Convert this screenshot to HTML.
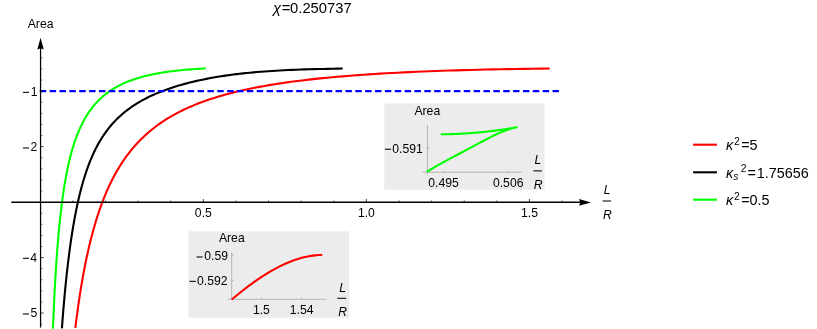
<!DOCTYPE html>
<html><head><meta charset="utf-8"><title>plot</title>
<style>
html,body{margin:0;padding:0;background:#fff;}
svg{display:block;will-change:transform;}
text{font-family:"Liberation Sans",sans-serif;fill:#000;}
.t{font-size:12.2px;}
.i{font-style:italic;}
</style></head><body>
<svg width="817" height="329" viewBox="0 0 817 329">
<rect x="0" y="0" width="817" height="329" fill="#ffffff"/>
<defs><clipPath id="cp"><rect x="0" y="0" width="817" height="328.8"/></clipPath></defs>

<text x="273.0" y="13.2" font-size="14.75"><tspan class="i">χ</tspan><tspan dx="0.7">=</tspan><tspan dx="-0.3">0.250737</tspan></text>
<g fill="none" stroke-width="2.1" stroke-linecap="butt" stroke-linejoin="round" clip-path="url(#cp)">
<path d="M52.80,332.59 L53.00,327.39 L53.21,322.30 L53.42,317.31 L53.63,312.42 L53.85,307.63 L54.07,302.93 L54.29,298.33 L54.52,293.82 L54.75,289.40 L54.98,285.07 L55.22,280.83 L55.46,276.66 L55.71,272.58 L55.96,268.58 L56.22,264.66 L56.47,260.81 L56.74,257.03 L57.00,253.33 L57.28,249.70 L57.55,246.14 L57.83,242.65 L58.12,239.22 L58.41,235.86 L58.70,232.56 L59.00,229.32 L59.31,226.14 L59.62,223.03 L59.93,219.97 L60.25,216.96 L60.58,214.01 L60.91,211.12 L61.25,208.28 L61.59,205.49 L61.94,202.75 L62.29,200.06 L62.65,197.42 L63.01,194.82 L63.38,192.27 L63.76,189.77 L64.14,187.31 L64.53,184.89 L64.93,182.52 L65.33,180.19 L65.74,177.90 L66.16,175.65 L66.58,173.44 L67.01,171.26 L67.44,169.13 L67.89,167.03 L68.34,164.96 L68.80,162.94 L69.26,160.94 L69.74,158.98 L70.22,157.06 L70.71,155.16 L71.21,153.30 L71.71,151.47 L72.23,149.67 L72.75,147.90 L73.28,146.16 L73.82,144.44 L74.37,142.76 L74.93,141.11 L75.49,139.48 L76.07,137.88 L76.66,136.30 L77.25,134.76 L77.86,133.23 L78.47,131.73 L79.10,130.26 L79.73,128.81 L80.38,127.39 L81.04,125.99 L81.70,124.61 L82.38,123.25 L83.07,121.92 L83.77,120.61 L84.49,119.32 L85.21,118.05 L85.95,116.81 L86.70,115.58 L87.46,114.38 L88.23,113.19 L89.02,112.03 L89.82,110.88 L90.63,109.76 L91.45,108.65 L92.29,107.56 L93.15,106.49 L94.01,105.44 L94.89,104.41 L95.79,103.39 L96.70,102.40 L97.63,101.42 L98.57,100.46 L99.52,99.51 L100.50,98.58 L101.48,97.67 L102.49,96.78 L103.51,95.90 L104.55,95.04 L105.60,94.19 L106.67,93.36 L107.76,92.55 L108.87,91.75 L110.00,90.97 L111.14,90.20 L112.31,89.45 L113.49,88.72 L114.69,87.99 L115.91,87.29 L117.16,86.60 L118.42,85.92 L119.70,85.26 L121.01,84.61 L122.33,83.97 L123.68,83.35 L125.05,82.75 L126.44,82.15 L127.86,81.58 L129.30,81.01 L130.76,80.46 L132.25,79.92 L133.76,79.40 L135.29,78.89 L136.86,78.39 L138.44,77.90 L140.06,77.43 L141.70,76.97 L143.36,76.53 L145.06,76.09 L146.78,75.67 L148.53,75.26 L150.31,74.86 L152.12,74.48 L153.96,74.10 L155.82,73.74 L157.72,73.39 L159.65,73.05 L161.62,72.73 L163.61,72.41 L165.64,72.11 L167.70,71.81 L169.80,71.53 L171.93,71.26 L174.09,70.99 L176.29,70.74 L178.53,70.50 L180.80,70.26 L183.11,70.04 L185.46,69.82 L187.85,69.62 L190.28,69.42 L192.74,69.23 L195.25,69.05 L197.80,68.88 L200.39,68.71 L203.02,68.56 L205.70,68.40" stroke="#00ff00"/>
<path d="M61.90,328.49 L62.26,323.67 L62.62,318.91 L63.00,314.23 L63.37,309.62 L63.76,305.07 L64.15,300.60 L64.55,296.20 L64.95,291.86 L65.36,287.59 L65.78,283.39 L66.20,279.25 L66.63,275.18 L67.07,271.18 L67.52,267.23 L67.97,263.36 L68.43,259.54 L68.90,255.79 L69.38,252.09 L69.86,248.46 L70.36,244.89 L70.86,241.38 L71.37,237.92 L71.89,234.53 L72.41,231.19 L72.95,227.90 L73.49,224.68 L74.05,221.51 L74.61,218.39 L75.18,215.32 L75.77,212.31 L76.36,209.36 L76.96,206.45 L77.57,203.59 L78.20,200.79 L78.83,198.03 L79.47,195.33 L80.13,192.67 L80.79,190.06 L81.47,187.49 L82.16,184.98 L82.86,182.51 L83.57,180.08 L84.29,177.70 L85.03,175.36 L85.77,173.06 L86.53,170.81 L87.31,168.59 L88.09,166.42 L88.89,164.29 L89.71,162.20 L90.53,160.15 L91.37,158.13 L92.23,156.16 L93.09,154.22 L93.98,152.31 L94.88,150.44 L95.79,148.61 L96.72,146.81 L97.66,145.05 L98.62,143.32 L99.60,141.62 L100.59,139.95 L101.60,138.31 L102.62,136.71 L103.67,135.13 L104.73,133.59 L105.81,132.07 L106.90,130.58 L108.02,129.12 L109.15,127.68 L110.30,126.28 L111.48,124.90 L112.67,123.54 L113.88,122.21 L115.11,120.90 L116.37,119.62 L117.64,118.36 L118.93,117.12 L120.25,115.90 L121.59,114.71 L122.95,113.54 L124.34,112.39 L125.74,111.26 L127.18,110.14 L128.63,109.05 L130.11,107.98 L131.62,106.92 L133.15,105.89 L134.70,104.87 L136.28,103.87 L137.89,102.88 L139.53,101.91 L141.19,100.96 L142.88,100.03 L144.60,99.11 L146.35,98.20 L148.13,97.31 L149.93,96.43 L151.77,95.57 L153.64,94.73 L155.54,93.89 L157.47,93.07 L159.43,92.27 L161.43,91.48 L163.46,90.70 L165.53,89.93 L167.63,89.18 L169.76,88.44 L171.93,87.71 L174.14,87.00 L176.38,86.30 L178.66,85.61 L180.98,84.93 L183.34,84.27 L185.74,83.62 L188.18,82.98 L190.66,82.35 L193.18,81.74 L195.74,81.14 L198.35,80.55 L201.00,79.97 L203.70,79.41 L206.44,78.87 L209.22,78.33 L212.06,77.81 L214.94,77.30 L217.87,76.81 L220.84,76.33 L223.87,75.86 L226.95,75.41 L230.08,74.98 L233.27,74.56 L236.50,74.15 L239.79,73.76 L243.14,73.38 L246.54,73.02 L250.00,72.68 L253.52,72.35 L257.10,72.03 L260.74,71.73 L264.43,71.45 L268.19,71.18 L272.02,70.93 L275.90,70.69 L279.86,70.47 L283.88,70.26 L287.96,70.07 L292.12,69.89 L296.34,69.72 L300.64,69.57 L305.01,69.42 L309.45,69.29 L313.97,69.17 L318.56,69.06 L323.23,68.95 L327.97,68.85 L332.80,68.75 L337.71,68.65 L342.70,68.55" stroke="#000000"/>
<path d="M75.30,327.98 L75.89,323.21 L76.49,318.52 L77.11,313.91 L77.73,309.36 L78.36,304.90 L79.01,300.50 L79.66,296.17 L80.33,291.91 L81.01,287.72 L81.70,283.60 L82.40,279.54 L83.11,275.55 L83.84,271.63 L84.57,267.76 L85.32,263.96 L86.09,260.22 L86.86,256.54 L87.65,252.92 L88.45,249.36 L89.27,245.86 L90.10,242.41 L90.94,239.02 L91.80,235.68 L92.68,232.40 L93.56,229.17 L94.47,225.99 L95.39,222.87 L96.32,219.80 L97.27,216.77 L98.24,213.80 L99.22,210.87 L100.22,208.00 L101.23,205.17 L102.27,202.38 L103.32,199.65 L104.39,196.95 L105.48,194.31 L106.58,191.70 L107.71,189.14 L108.85,186.62 L110.01,184.14 L111.20,181.71 L112.40,179.31 L113.62,176.96 L114.87,174.64 L116.13,172.36 L117.42,170.13 L118.73,167.92 L120.06,165.76 L121.41,163.63 L122.79,161.54 L124.19,159.48 L125.62,157.46 L127.07,155.47 L128.54,153.52 L130.04,151.60 L131.56,149.71 L133.11,147.86 L134.69,146.03 L136.29,144.24 L137.92,142.48 L139.58,140.75 L141.26,139.05 L142.98,137.38 L144.72,135.74 L146.50,134.12 L148.30,132.54 L150.14,130.98 L152.00,129.45 L153.90,127.95 L155.83,126.48 L157.79,125.03 L159.79,123.60 L161.82,122.20 L163.88,120.83 L165.98,119.48 L168.12,118.16 L170.29,116.86 L172.50,115.59 L174.75,114.33 L177.03,113.10 L179.35,111.90 L181.72,110.71 L184.12,109.55 L186.56,108.41 L189.05,107.29 L191.58,106.20 L194.15,105.12 L196.76,104.06 L199.42,103.03 L202.13,102.01 L204.88,101.02 L207.68,100.04 L210.52,99.08 L213.42,98.14 L216.36,97.22 L219.35,96.32 L222.39,95.44 L225.49,94.58 L228.64,93.73 L231.84,92.90 L235.10,92.09 L238.41,91.29 L241.78,90.51 L245.20,89.75 L248.69,89.00 L252.23,88.28 L255.83,87.56 L259.50,86.86 L263.22,86.18 L267.01,85.51 L270.87,84.86 L274.79,84.23 L278.78,83.60 L282.83,83.00 L286.96,82.40 L291.15,81.82 L295.42,81.26 L299.76,80.71 L304.17,80.17 L308.66,79.65 L313.22,79.14 L317.86,78.64 L322.58,78.16 L327.38,77.69 L332.26,77.23 L337.23,76.78 L342.28,76.35 L347.42,75.93 L352.64,75.52 L357.95,75.12 L363.35,74.74 L368.85,74.37 L374.44,74.01 L380.12,73.66 L385.90,73.32 L391.78,73.00 L397.76,72.68 L403.84,72.38 L410.02,72.08 L416.31,71.80 L422.70,71.53 L429.21,71.27 L435.82,71.02 L442.55,70.78 L449.39,70.56 L456.35,70.34 L463.43,70.13 L470.63,69.93 L477.95,69.75 L485.39,69.57 L492.97,69.40 L500.67,69.24 L508.50,69.10 L516.46,68.96 L524.56,68.83 L532.80,68.71 L541.18,68.60 L549.70,68.50" stroke="#ff0000"/>
</g>
<line x1="39.8" y1="91.15" x2="559.5" y2="91.15" stroke="#0000ff" stroke-width="2.1" stroke-dasharray="6.45 3.41"/>
<g stroke="#000" stroke-width="1.1" fill="none">
<line x1="11.3" y1="202.2" x2="581" y2="202.2" stroke-width="1.45"/>
<line x1="40.55" y1="327.6" x2="40.55" y2="47" stroke-width="1.25"/>
</g>
<path d="M591.0,202.39999999999998 L579.0,199.09999999999997 L580.4,202.39999999999998 L579.0,205.7 Z" fill="#000"/>
<path d="M40.55,37.8 L37.3,49.5 L40.55,48.2 L43.8,49.5 Z" fill="#000"/>
<g stroke="#000" stroke-width="0.7" fill="none">
<line x1="72.91" y1="202.2" x2="72.91" y2="200.5"/>
<line x1="105.52" y1="202.2" x2="105.52" y2="200.5"/>
<line x1="138.13" y1="202.2" x2="138.13" y2="200.5"/>
<line x1="170.74" y1="202.2" x2="170.74" y2="200.5"/>
<line x1="203.35" y1="202.2" x2="203.35" y2="199.0"/>
<line x1="235.96" y1="202.2" x2="235.96" y2="200.5"/>
<line x1="268.57" y1="202.2" x2="268.57" y2="200.5"/>
<line x1="301.18" y1="202.2" x2="301.18" y2="200.5"/>
<line x1="333.79" y1="202.2" x2="333.79" y2="200.5"/>
<line x1="366.40" y1="202.2" x2="366.40" y2="199.0"/>
<line x1="399.01" y1="202.2" x2="399.01" y2="200.5"/>
<line x1="431.62" y1="202.2" x2="431.62" y2="200.5"/>
<line x1="464.23" y1="202.2" x2="464.23" y2="200.5"/>
<line x1="496.84" y1="202.2" x2="496.84" y2="200.5"/>
<line x1="529.45" y1="202.2" x2="529.45" y2="199.0"/>
<line x1="562.06" y1="202.2" x2="562.06" y2="200.5"/>
<line x1="40.55" y1="57.88" x2="42.25" y2="57.88"/>
<line x1="40.55" y1="68.97" x2="42.25" y2="68.97"/>
<line x1="40.55" y1="80.07" x2="42.25" y2="80.07"/>
<line x1="40.55" y1="91.16" x2="43.75" y2="91.16"/>
<line x1="40.55" y1="102.25" x2="42.25" y2="102.25"/>
<line x1="40.55" y1="113.35" x2="42.25" y2="113.35"/>
<line x1="40.55" y1="124.44" x2="42.25" y2="124.44"/>
<line x1="40.55" y1="135.54" x2="42.25" y2="135.54"/>
<line x1="40.55" y1="146.63" x2="43.75" y2="146.63"/>
<line x1="40.55" y1="157.72" x2="42.25" y2="157.72"/>
<line x1="40.55" y1="168.82" x2="42.25" y2="168.82"/>
<line x1="40.55" y1="179.91" x2="42.25" y2="179.91"/>
<line x1="40.55" y1="191.01" x2="42.25" y2="191.01"/>
<line x1="40.55" y1="213.19" x2="42.25" y2="213.19"/>
<line x1="40.55" y1="224.29" x2="42.25" y2="224.29"/>
<line x1="40.55" y1="235.38" x2="42.25" y2="235.38"/>
<line x1="40.55" y1="246.48" x2="42.25" y2="246.48"/>
<line x1="40.55" y1="257.57" x2="43.75" y2="257.57"/>
<line x1="40.55" y1="268.66" x2="42.25" y2="268.66"/>
<line x1="40.55" y1="279.76" x2="42.25" y2="279.76"/>
<line x1="40.55" y1="290.85" x2="42.25" y2="290.85"/>
<line x1="40.55" y1="301.95" x2="42.25" y2="301.95"/>
<line x1="40.55" y1="313.04" x2="43.75" y2="313.04"/>
<line x1="40.55" y1="324.13" x2="42.25" y2="324.13"/>
</g>
<text class="t" x="37.5" y="95.76" text-anchor="end">1</text>
<rect x="22.9" y="91.80" width="6.1" height="1.06" fill="#000"/>
<text class="t" x="37.4" y="151.03" text-anchor="end">2</text>
<rect x="22.9" y="147.44" width="6.1" height="1.06" fill="#000"/>
<text class="t" x="37.0" y="261.87" text-anchor="end">4</text>
<rect x="22.9" y="257.80" width="6.1" height="1.06" fill="#000"/>
<text class="t" x="37.4" y="317.19" text-anchor="end">5</text>
<rect x="22.9" y="313.46" width="6.1" height="1.06" fill="#000"/>
<text class="t" x="203.35" y="216.7" text-anchor="middle">0.5</text>
<text class="t" x="366.40" y="216.7" text-anchor="middle">1.0</text>
<text class="t" x="529.45" y="216.7" text-anchor="middle">1.5</text>
<text class="t" x="40.6" y="28.1" text-anchor="middle">Area</text>
<text class="t i" x="607.1999999999999" y="193.9" text-anchor="middle">L</text>
<line x1="602.5" y1="201.0" x2="611.0999999999999" y2="201.0" stroke="#111" stroke-width="1.1"/>
<text class="t i" x="607.4" y="219.1" text-anchor="middle">R</text>
<rect x="384.3" y="103.5" width="160.3" height="86.2" fill="#ececec"/>
<g stroke="#8e8e8e" stroke-width="0.6" fill="none">
<line x1="427.45" y1="125" x2="427.45" y2="174.2"/><line x1="422.6" y1="172.2" x2="521.8" y2="172.2"/>
<line x1="427.4" y1="148.4" x2="429.2" y2="148.4"/>
<line x1="443.5" y1="172.2" x2="443.5" y2="170.7"/><line x1="508.3" y1="172.2" x2="508.3" y2="170.7"/>
</g>
<path d="M440.80,134.31 L442.75,134.30 L444.70,134.27 L446.65,134.24 L448.59,134.20 L450.54,134.15 L452.49,134.09 L454.44,134.02 L456.39,133.95 L458.34,133.86 L460.29,133.77 L462.24,133.66 L464.18,133.55 L466.13,133.43 L468.08,133.31 L470.03,133.17 L471.98,133.02 L473.93,132.87 L475.88,132.71 L477.83,132.53 L479.77,132.35 L481.72,132.16 L483.67,131.97 L485.62,131.76 L487.57,131.54 L489.52,131.32 L491.47,131.09 L493.42,130.85 L495.36,130.60 L497.31,130.34 L499.26,130.07 L501.21,129.80 L503.16,129.51 L505.11,129.22 L507.06,128.92 L509.01,128.60 L510.95,128.29 L512.90,127.96 L514.85,127.62 L516.80,127.27 L516.80,127.34 L514.50,127.77 L512.19,128.31 L509.89,128.95 L507.59,129.69 L505.29,130.51 L502.98,131.40 L500.68,132.36 L498.38,133.37 L496.08,134.44 L493.77,135.54 L491.47,136.68 L489.17,137.84 L486.87,139.03 L484.56,140.24 L482.26,141.46 L479.96,142.69 L477.66,143.92 L475.35,145.16 L473.05,146.40 L470.75,147.63 L468.45,148.86 L466.14,150.09 L463.84,151.31 L461.54,152.53 L459.24,153.75 L456.93,154.96 L454.63,156.17 L452.33,157.38 L450.03,158.60 L447.72,159.82 L445.42,161.06 L443.12,162.31 L440.82,163.58 L438.51,164.88 L436.21,166.21 L433.91,167.58 L431.61,168.99 L429.30,170.46 L427.00,171.99" fill="none" stroke="#00ff00" stroke-width="2.1" stroke-linejoin="round"/>
<path d="M440.80,134.30 C443.01,134.27 449.00,134.27 454.05,134.10 C459.10,133.93 465.43,133.68 471.10,133.30 C476.78,132.92 482.43,132.45 488.10,131.80 C493.77,131.15 500.32,130.15 505.10,129.40 C509.88,128.65 514.85,127.65 516.80,127.30" fill="none" stroke="none" stroke-width="2.1" stroke-linejoin="round"/>
<path d="M516.80,127.30 C514.85,127.93 509.88,129.45 505.10,131.10 C500.32,132.75 493.77,134.97 488.10,137.20 C482.43,139.43 476.78,141.69 471.10,144.50 C465.43,147.31 459.73,150.67 454.05,154.05 C448.37,157.43 441.46,161.88 437.00,164.80 C432.54,167.73 428.92,170.47 427.30,171.60" fill="none" stroke="none" stroke-width="2.1" stroke-linejoin="round"/>
<text class="t" x="427.3" y="114.5" text-anchor="middle">Area</text>
<text class="t" x="422.8" y="152.5" text-anchor="end">0.591</text><rect x="384.85" y="148.71" width="6.15" height="1.06" fill="#000"/>
<text class="t" x="443.6" y="186.6" text-anchor="middle">0.495</text>
<text class="t" x="508.2" y="186.6" text-anchor="middle">0.506</text>
<text class="t i" x="538.0" y="164.2" text-anchor="middle">L</text>
<line x1="533.3000000000001" y1="170.9" x2="541.9" y2="170.9" stroke="#111" stroke-width="1.1"/>
<text class="t i" x="538.2" y="188.6" text-anchor="middle">R</text>
<rect x="188.5" y="231.3" width="160.7" height="86.5" fill="#ececec"/>
<g stroke="#8e8e8e" stroke-width="0.6" fill="none">
<line x1="231.7" y1="252.4" x2="231.7" y2="300"/><line x1="227.7" y1="299.3" x2="326.3" y2="299.3"/>
<line x1="231.7" y1="255.2" x2="233.4" y2="255.2"/><line x1="231.7" y1="280.3" x2="233.4" y2="280.3"/>
<line x1="261.5" y1="299.3" x2="261.5" y2="297.7"/><line x1="301.5" y1="299.3" x2="301.5" y2="297.7"/>
</g>
<path d="M231.70,299.54 L233.55,297.99 L235.39,296.46 L237.24,294.95 L239.09,293.45 L240.93,291.98 L242.78,290.52 L244.63,289.08 L246.48,287.67 L248.32,286.27 L250.17,284.90 L252.02,283.55 L253.86,282.22 L255.71,280.92 L257.56,279.64 L259.40,278.39 L261.25,277.16 L263.10,275.96 L264.94,274.78 L266.79,273.63 L268.64,272.51 L270.49,271.42 L272.33,270.36 L274.18,269.33 L276.03,268.33 L277.87,267.35 L279.72,266.41 L281.57,265.51 L283.41,264.63 L285.26,263.79 L287.11,262.98 L288.96,262.21 L290.80,261.47 L292.65,260.77 L294.50,260.11 L296.34,259.48 L298.19,258.89 L300.04,258.34 L301.88,257.82 L303.73,257.35 L305.58,256.92 L307.42,256.52 L309.27,256.17 L311.12,255.86 L312.97,255.60 L314.81,255.37 L316.66,255.19 L318.51,255.05 L320.35,254.96 L322.20,254.92" fill="none" stroke="#ff0000" stroke-width="2.1"/>
<text class="t" x="231.8" y="241.7" text-anchor="middle">Area</text>
<text class="t" x="228.0" y="260.3" text-anchor="end">0.59</text><rect x="196.6" y="256.44" width="6.1" height="1.06" fill="#000"/>
<text class="t" x="227.5" y="284.9" text-anchor="end">0.592</text><rect x="189.5" y="280.8" width="6.25" height="1.06" fill="#000"/>
<text class="t" x="261.4" y="314.3" text-anchor="middle">1.5</text>
<text class="t" x="301.7" y="314.3" text-anchor="middle">1.54</text>
<text class="t i" x="342.6" y="291.9" text-anchor="middle">L</text>
<line x1="337.3" y1="298.3" x2="346.3" y2="298.3" stroke="#111" stroke-width="1.1"/>
<text class="t i" x="342.70000000000005" y="315.7" text-anchor="middle">R</text>
<line x1="693.1" y1="144.7" x2="716.9" y2="144.7" stroke="#ff0000" stroke-width="2.1"/>
<line x1="693.1" y1="172.3" x2="716.9" y2="172.3" stroke="#000000" stroke-width="2.1"/>
<line x1="693.1" y1="199.7" x2="716.9" y2="199.7" stroke="#00ff00" stroke-width="2.1"/>
<text x="726.0" y="149.7" font-size="14.4"><tspan class="i">κ</tspan><tspan dy="-5.0" dx="0.7" font-size="10.3">2</tspan><tspan dy="5.0" dx="1.5">=5</tspan></text>
<text x="726.0" y="177.5" font-size="14.4"><tspan class="i">κ</tspan><tspan class="i" dy="2.4" dx="0" font-size="10.3">s</tspan><tspan dy="-7.7" dx="2.3" font-size="10.3">2</tspan><tspan dy="5.3" dx="1.1">=</tspan><tspan dx="0.8">1.75656</tspan></text>
<text x="726.0" y="204.7" font-size="14.4"><tspan class="i">κ</tspan><tspan dy="-5.0" dx="0.7" font-size="10.3">2</tspan><tspan dy="5.0" dx="1.5">=0.5</tspan></text>
</svg></body></html>
